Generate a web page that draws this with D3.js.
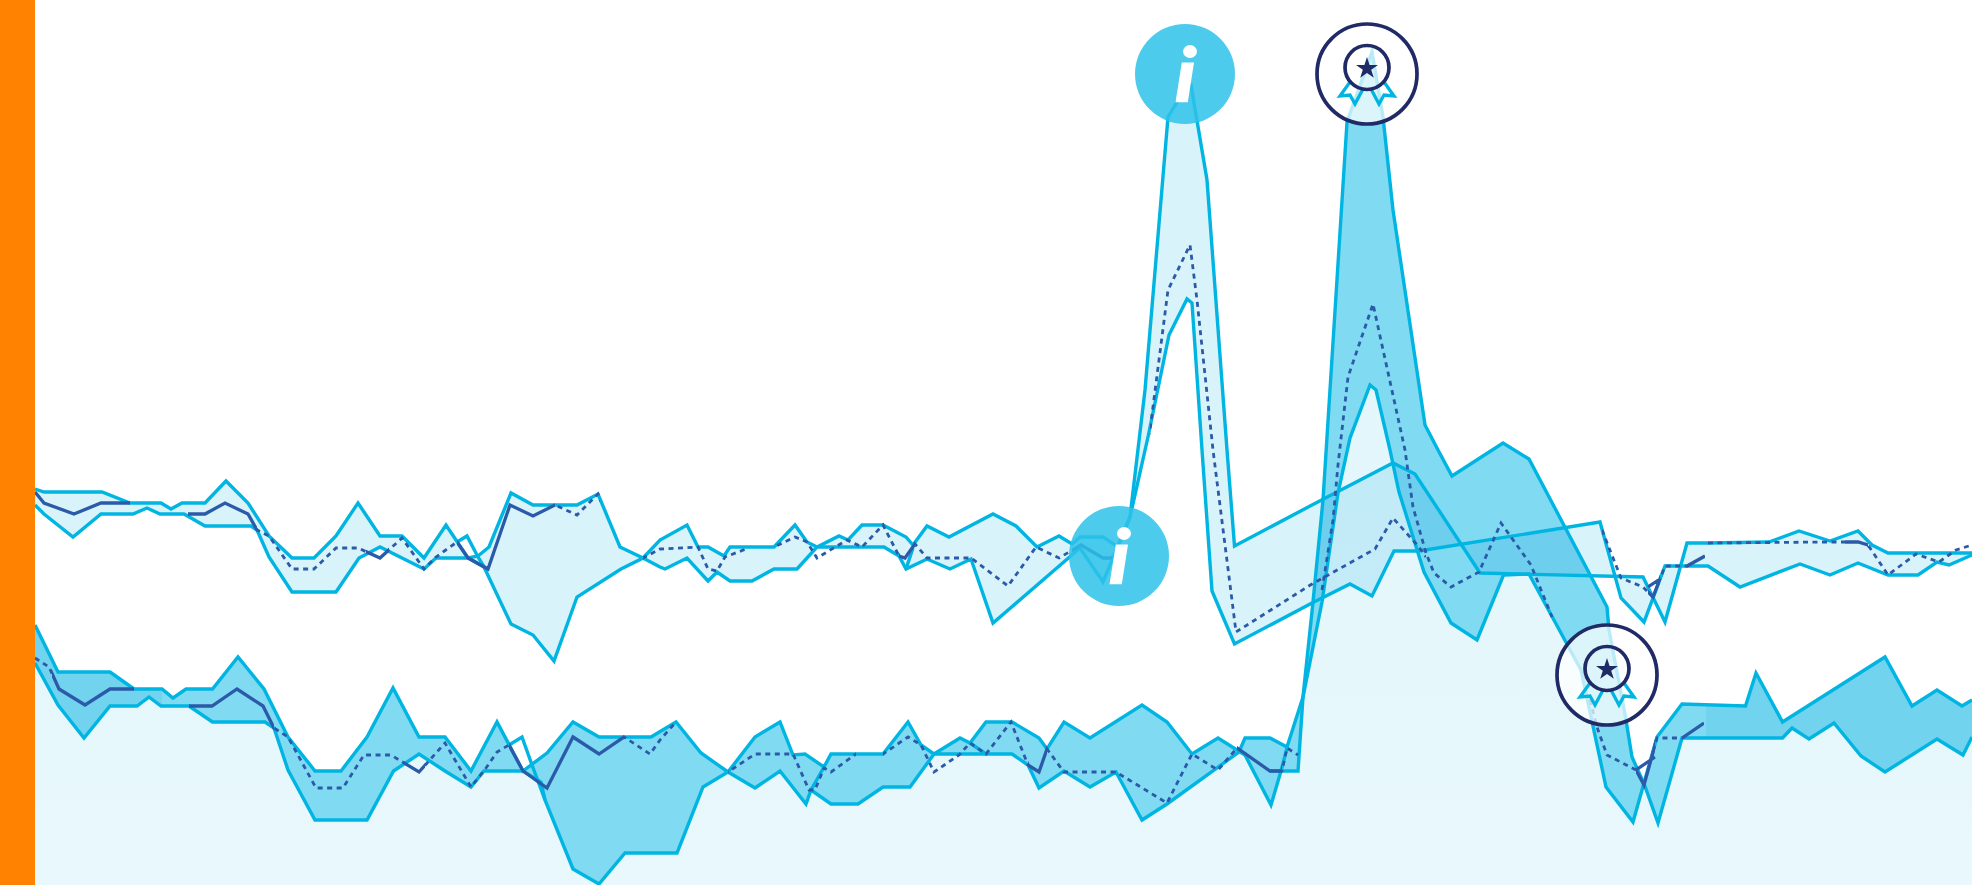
<!DOCTYPE html>
<html><head><meta charset="utf-8">
<style>html,body{margin:0;padding:0;background:#fff;overflow:hidden}svg{display:block}</style>
<script src="https://cdnjs.cloudflare.com/ajax/libs/d3/7.8.5/d3.min.js"></script>
</head><body><svg id="c" width="1972" height="885"></svg>
<script>
// upper band, edge one
const a1X=[35,44,102,130,161,171,182,205,226,248,269,292,314,336,358,380,402,424,446,468,478,489,511,533,577,598,620,643,660,665,687,708,717,730,752,774,797,817,862,884,899,906,927,950,971,993,1080,1103,1115,1130,1148,1169,1187,1192,1202,1212,1234.5,1312,1350,1372,1394,1419,1600,1621,1644,1665,1708,1740,1800,1830,1858,1888,1918,1937,1949,1972];
const a1Y=[489,492,492,503,503,509,503,503,481,503,536,558,558,536,503,536,536,558,525,558,556,547,493,505,505,494,547,558,567,569,558,581,572,581,581,569,569,547,547,547,556,569,559,569,559,623,548,582,553,517,437,335,299,303,450,591,644,603,584,596,551,551,522,598,622,566,566,587,564,575,563,575,575,562,565,555];
// upper band, edge two
const a2X=[35,44,73,101,133,147,160,184,205,251,257,269,292,336,359,380,402,424,436,468,484,511,533,554,577,621,643,660,687,698,708,724,730,774,795,807,817,839,848,862,883,906,913,927,949,993,1016,1037,1059,1072,1080,1103,1118,1130,1145,1168,1177,1183,1191,1207,1227,1234.5,1312,1393,1415,1480,1643,1665,1687,1708,1769,1799,1830,1858,1872,1888,1972];
const a2Y=[505,514,537,514,514,508,514,514,526,526,530,557,592,592,558,547,558,569,558,558,567,624,635,661,597,569,558,540,525,547,547,556,547,547,525,542,547,536,540,525,525,537,545,526,537,514,526,547,536,544,537,537,547,517,390,117,102,80,85,180,450,546,505,463,474,573,577,622,543,543,542,531,541,531,545,553,553];
// upper band, short extra edges (null breaks the line)
const aHookX=[457,467,478,486,null,906,913];
const aHookY=[542,536,557,570,null,569,548];
// upper band, middle line
const amX=[35,44,74,101,130,161,171,182,205,225,248,257,269,292,314,336,358,380,402,424,436,457,468,488,510,533,555,577,598,620,643,660,698,708,717,725,746,774,795,807,817,847,862,883,899,905,915,927,971,1008,1036,1059,1081,1103,1112,1119,1150,1168,1190,1197,1213,1236,1312,1375,1393,1419,1426,null,1602,1621,1643,1653,1665,1687,1705,null,1648,1660,null,1708,1830,1858,1868,1888,1916,1939,1956,1972];
const amY=[492,503,514,503,503,503,509,514,514,503,514,530,536,569,569,548,548,558,538,569,557,542,558,569,505,516,505,515,494,547,558,549,547,569,571,557,549,547,537,542,558,540,547,525,556,558,544,558,558,586,547,558,545,558,558,545,430,290,245,300,450,632,584,549,518,547,557,null,530,578,587,597,566,566,556,null,587,579,null,543,542,542,545,575,554,562,550,545];
const amSolid=[[30,130],[188,257],[366,389],[457,555],[899,915],[1072,1112],[1648,1660],[1687,1705],[1845,1868]];
const amDash=[[257,366],[389,457],[555,600],[643,746],[774,899],[915,1072],[1150,1426],[1602,1648],[1660,1687],[1708,1845],[1868,1972]];
// lower band, edge one
const b1X=[35,58,110,134,162,173,186,212.5,238,264,288,315,341,367,393,419,445,471,497,523,547,573,599,651,676,701,728,755,780,806,811,831,858,883,910,934,1012,1028,1039,1064,1090,1116,1142,1167,1239,1245,1270,1287,1303,1322,1338,1350,1370,1376,1390,1399,1424,1451,1477,1503.5,1529,1581,1606,1633,1657,1682,1745.5,1756,1782.5,1885,1912,1937,1962,1972];
const b1Y=[625,672,672,689,689,698,689,689,657,689,737,771,771,737,688,737,737,771,722,771,753,722,737,737,722,753,772,788,771,804,790,804,804,787,787,754,754,765,788,771,787,772,820,804,752,738,738,747,697,602,493,438,385,390,450,492,572,623,640,575,574,670,787,822,737,704,706,673,722,657,706,690,706,700];
// lower band, edge two
const b2X=[35,58,84,110,137,149,161,189,212.5,265,274,288,315,367,393.5,419,445,471,484,523,541,545,573,599,625,660,677,703,728,755,780,793,805,824,831,883,908,921,934,960,970,986,1012,1039,1047,1064,1090,1142,1167,1192,1218,1245,1271,1281,1298,1303,1313,1323,1347,1372,1383,1393,1425,1438,1452,1503,1529,1607,1609,1625.5,1632,1644.5,1658,1682,1782.5,1792,1809,1834,1861,1885,1937,1963,1972];
const b2Y=[663,705,738,706,706,697,706,706,722,722,728,770,820,820,771,754,771,787,771,771,782,800,869,884,853,853,853,787,772,737,722,755,754,767,754,754,722,745,754,738,743,722,722,738,749,722,738,705,722,754,738,755,805,771,771,697,602,500,122,52,117,210,425,450,476,443,459,607,630,717,757,785,823,738,738,728,739,723,756,772,739,755,737];
// lower band, short extra edges
const bHookX=[509,522,532,545,null,811,824,null,970,986,null,1270,1281,1287];
const bHookY=[745,737,765,800,null,790,767,null,743,754,null,771,771,748];
// lower band, middle line
const bmX=[35,49,59,85,110,134,162,173,189,212,237,263,274,288,316,343,364,391,419,445,471,486,497,509,523,547,573,599,624,650,660,676,728,755,793,809,815,824,831,856,883,908,921,934,959,970,986,1011,1028,1039,1047,1064,1116,1167,1192,1218,1237,1270,1282,1287,1298,null,1322,1333,1338,1348,1373,1405,1413,1426,1434,1451,1479,1501,1531,1552,null,1590,1598,1607,1636,1644,1657,1682,1704,null,1636,1655];
const bmY=[658,667,689,705,689,689,689,698,706,706,689,706,728,737,788,788,755,755,772,743,787,768,752,745,771,788,737,754,737,754,740,722,772,754,754,790,790,768,772,754,754,737,745,772,755,743,754,722,765,772,749,772,772,803,754,770,748,771,771,748,755,null,590,520,465,377,304,450,507,553,573,587,572,523,565,617,null,700,730,755,770,785,738,738,723,null,770,757];
const bmSolid=[[52,134],[189,274],[404,425],[509,624],[1028,1047],[1237,1282],[1636,1655],[1682,1704]];
const bmDash=[[30,52],[274,404],[425,509],[624,676],[728,856],[883,1028],[1047,1237],[1282,1636],[1655,1682]];
// range where the lower band reads darker
const darkRanges=[[30,162],[1706,1972]];
// markers
const infoX=[1185,1119];
const infoY=[74,556];
const awardX=[1367,1607];
const awardY=[74,675];

const x=d3.scaleLinear().domain([0,1972]).range([0,1972]);
const y=d3.scaleLinear().domain([885,0]).range([885,0]);
const svg=d3.select('#c');
const defs=svg.append('defs');
const grad=defs.append('linearGradient').attr('id','lt').attr('x1',0).attr('x2',0).attr('y1',0).attr('y2',1).attr('gradientUnits','objectBoundingBox');
grad.append('stop').attr('offset','0%').attr('stop-color','#dff5fb');
grad.append('stop').attr('offset','100%').attr('stop-color','#e8f8fc');

function pts(X,Y){return X.map((v,i)=>[v,Y[i]]);}
const line=d3.line().defined(d=>d[0]!==null).x(d=>x(d[0])).y(d=>y(d[1]));
const under=d3.area().x(d=>x(d[0])).y1(d=>y(d[1])).y0(y(885));
function clip(id,ranges){
  const c=defs.append('clipPath').attr('id',id);
  c.selectAll('rect').data(ranges).join('rect').attr('x',d=>x(d[0])).attr('width',d=>x(d[1])-x(d[0])).attr('y',0).attr('height',885);
}
clip('amS',amSolid);clip('amD',amDash);clip('bmS',bmSolid);clip('bmD',bmDash);clip('dk',darkRanges);

const a1=pts(a1X,a1Y),a2=pts(a2X,a2Y),b1=pts(b1X,b1Y),b2=pts(b2X,b2Y);
const CY='#00b5e2',NV='#1f2a66',MID='#2b5aa9';

// light ground under the lower band
const gx=[...new Set([...b1X,...b2X])].sort((p,q)=>p-q);
const lerp=(X,Y,v)=>{for(let i=1;i<X.length;i++){if(v<=X[i]){const t=(v-X[i-1])/(X[i]-X[i-1]);return Y[i-1]+t*(Y[i]-Y[i-1]);}}return Y[Y.length-1];};
svg.append('path').attr('d',under(gx.map(v=>[v,Math.min(lerp(b1X,b1Y,v),lerp(b2X,b2Y,v))]))).attr('fill','url(#lt)');

// band fills
const bandB=line(b1.concat(b2.slice().reverse()))+'Z';
const bandA=line(a1.concat(a2.slice().reverse()))+'Z';
svg.append('path').attr('d',bandB).attr('fill','#80daf1');
svg.append('path').attr('d',bandB).attr('fill','#72d3ee').attr('clip-path','url(#dk)');
svg.append('path').attr('d',bandA).attr('fill','#d9f3fb').style('mix-blend-mode','multiply');

// edges
const edges=[a1,a2,pts(aHookX,aHookY),b1,b2,pts(bHookX,bHookY)];
svg.append('g').selectAll('path').data(edges).join('path').attr('d',line).attr('fill','none').attr('stroke',CY).attr('stroke-width',3.4).attr('stroke-linejoin','miter').attr('stroke-miterlimit',6);

// middle lines
[[amX,amY,'am'],[bmX,bmY,'bm']].forEach(([X,Y,n])=>{
  const d=line(pts(X,Y));
  svg.append('path').attr('d',d).attr('fill','none').attr('stroke',MID).attr('stroke-width',2.8).attr('stroke-dasharray','5 4.5').attr('clip-path',`url(#${n}D)`);
  svg.append('path').attr('d',d).attr('fill','none').attr('stroke',MID).attr('stroke-width',3.3).attr('clip-path',`url(#${n}S)`);
});

// info markers
infoX.forEach((v,i)=>{
  const g=svg.append('g').attr('transform',`translate(${x(v)},${y(infoY[i])})`);
  g.append('circle').attr('r',50).attr('fill','#2ec2e9').attr('opacity',0.85);
  g.append('path').attr('d',d3.line()([[-3.2,-11.5],[9,-11.5],[2.8,28.3],[-9.5,28.3]])+'Z').attr('fill','#fff');
  g.append('ellipse').attr('cx',5).attr('cy',-22.5).attr('rx',7).attr('ry',6.5).attr('fill','#fff');
});
// award markers
awardX.forEach((v,i)=>{
  const g=svg.append('g').attr('transform',`translate(${x(v)},${y(awardY[i])})`);
  g.append('circle').attr('r',50).attr('fill','#fff').attr('fill-opacity',0.72).attr('stroke',NV).attr('stroke-width',3.7);
  const rib=[[-17,8],[-27,22],[-17,21],[-12,30],[-4,15]];
  [1,-1].forEach(s=>g.append('path').attr('d',d3.line()(rib.map(p=>[s*p[0],p[1]]))).attr('fill','none').attr('stroke',CY).attr('stroke-width',3.3));
  g.append('circle').attr('cy',-6.5).attr('r',22).attr('fill','none').attr('stroke',NV).attr('stroke-width',3.7);
  g.append('path').attr('transform','translate(0,-5.5)').attr('d',d3.symbol().type(d3.symbolStar).size(150)()).attr('fill',NV);
});
// orange strip
svg.append('rect').attr('x',0).attr('y',0).attr('width',35).attr('height',885).attr('fill','#ff8200');
</script></body></html>
